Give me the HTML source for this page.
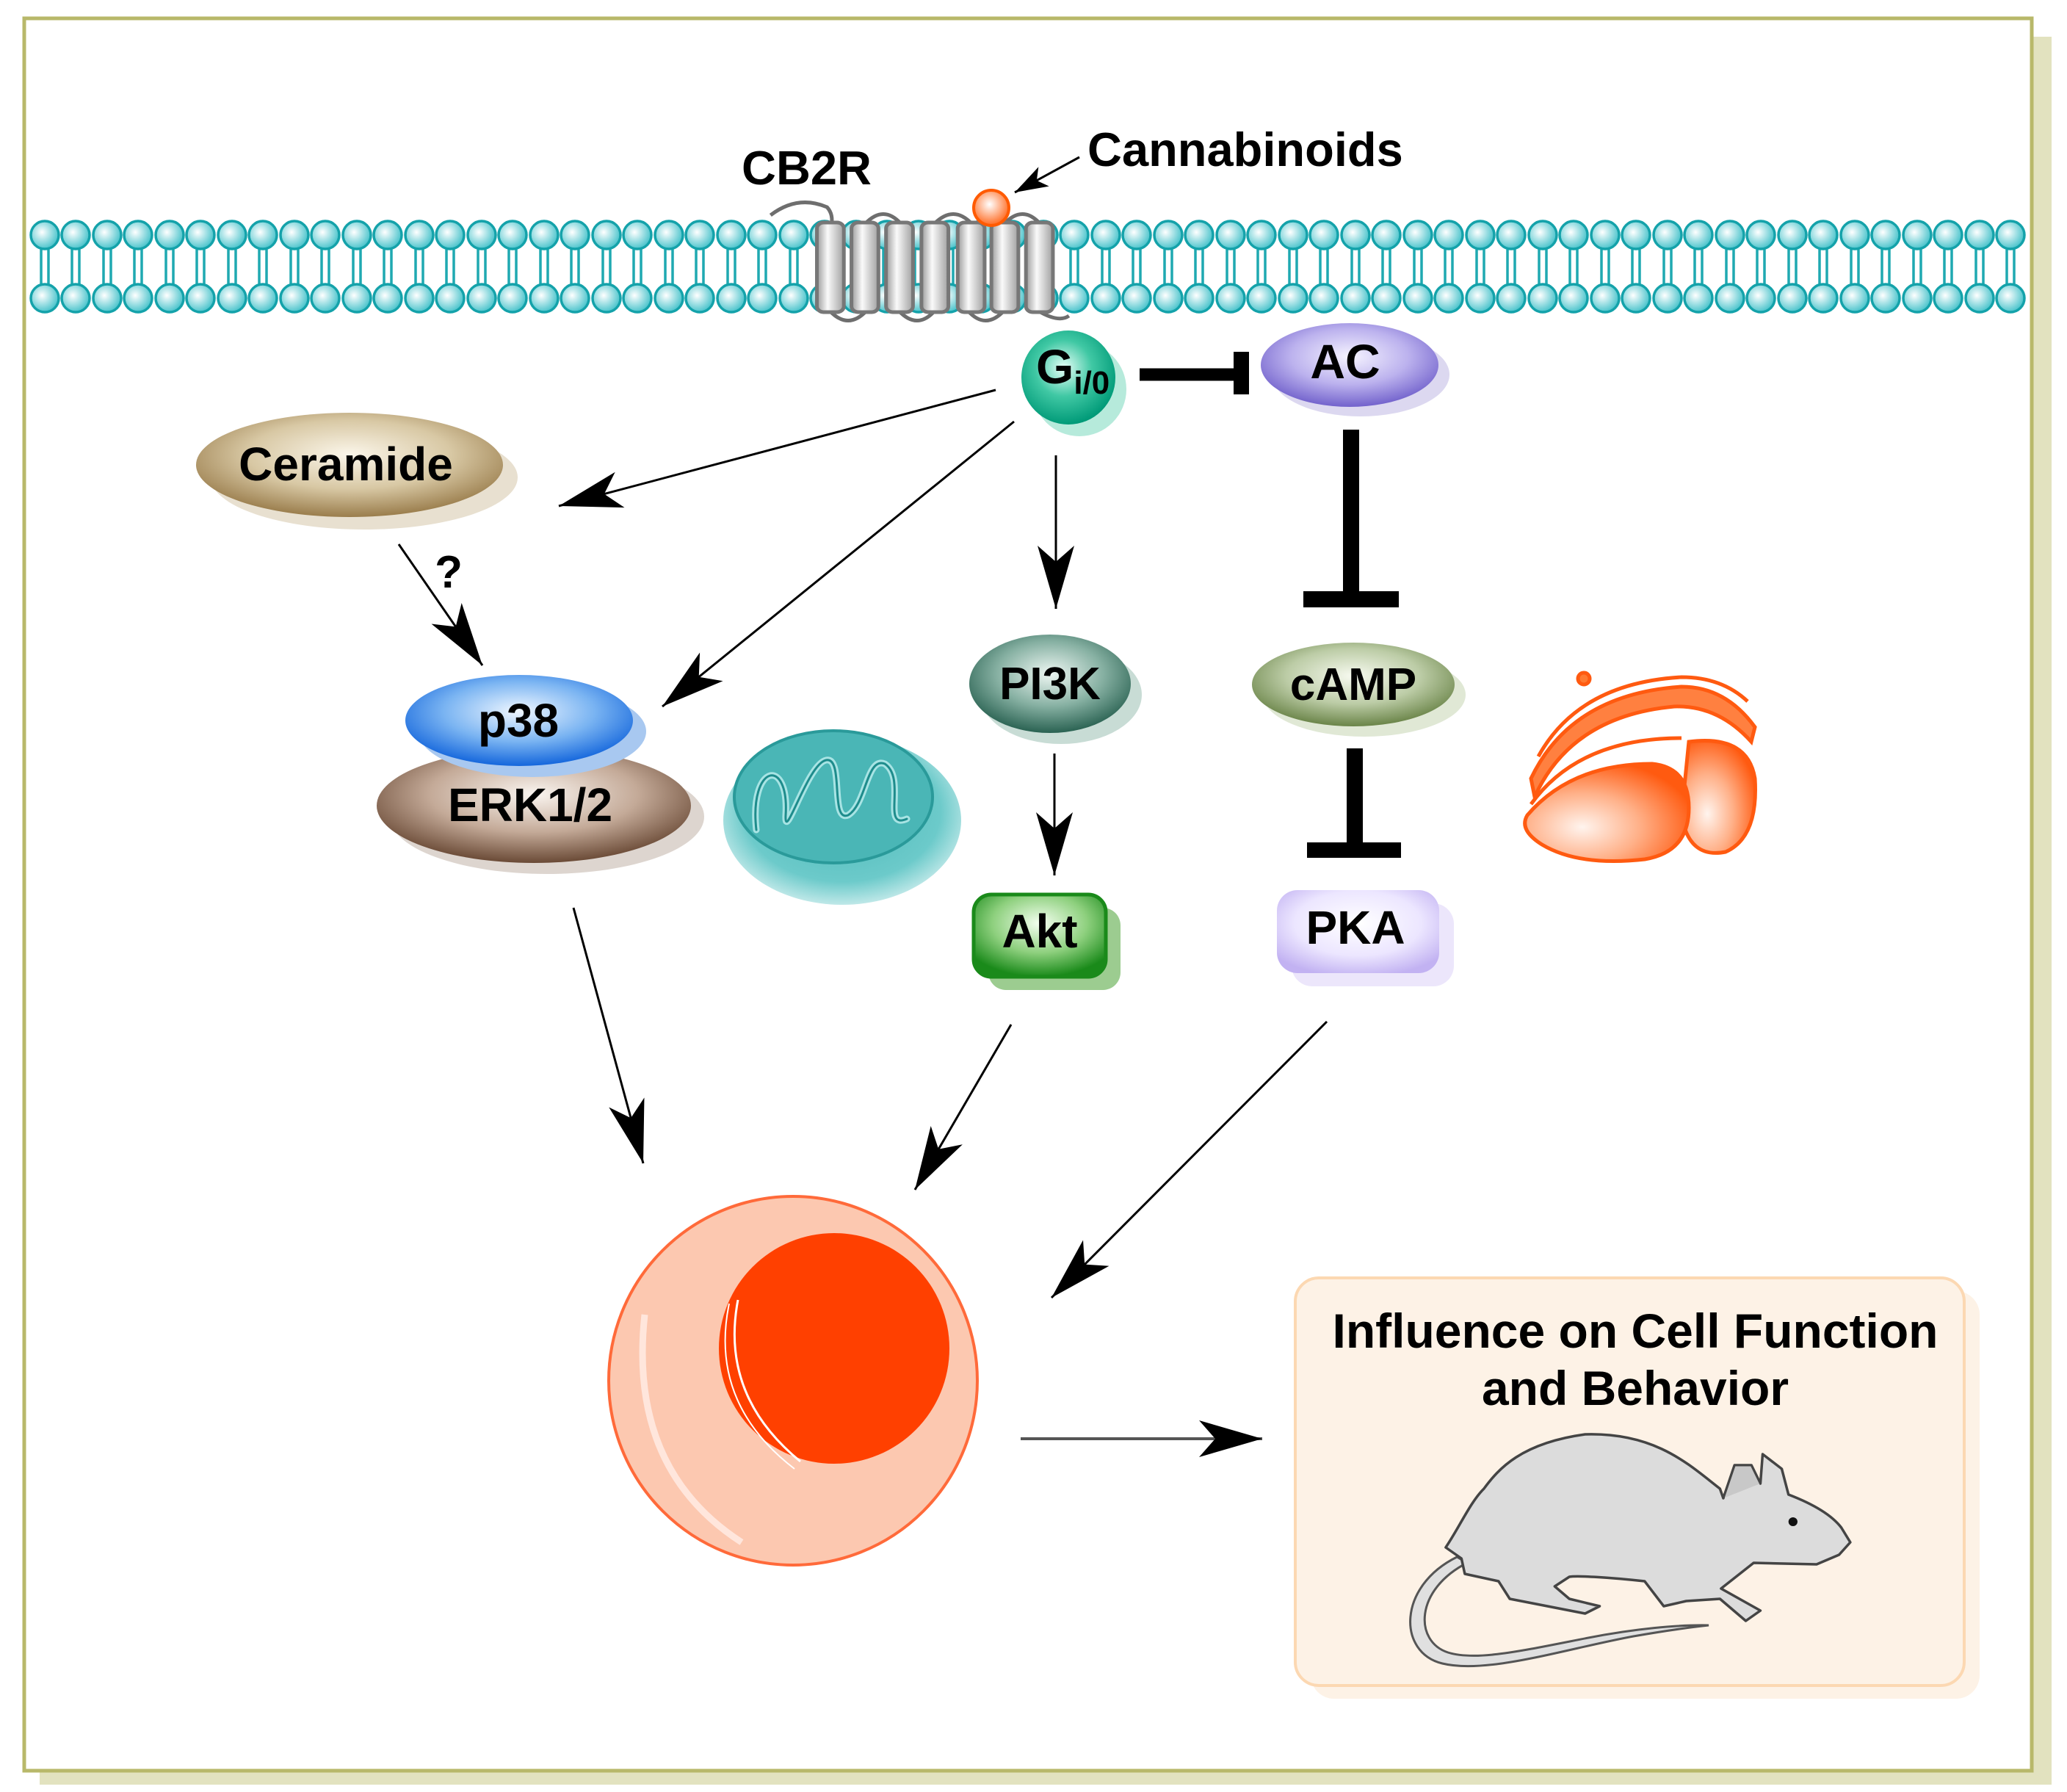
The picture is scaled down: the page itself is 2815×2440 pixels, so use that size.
<!DOCTYPE html>
<html><head><meta charset="utf-8"><style>html,body{margin:0;padding:0;background:#fff}svg{display:block}text{font-family:"Liberation Sans",Arial,sans-serif;font-weight:bold}</style></head>
<body>
<svg width="2815" height="2440" viewBox="0 0 2815 2440" xmlns="http://www.w3.org/2000/svg">
<defs>
<radialGradient id="head" cx="0.4" cy="0.4" r="0.6"><stop offset="0" stop-color="#fff"/><stop offset="1" stop-color="#4cc4cc"/></radialGradient>
<linearGradient id="cyl" x1="0" x2="1" y1="0" y2="0"><stop offset="0" stop-color="#9a9a9a"/><stop offset="0.4" stop-color="#fafafa"/><stop offset="1" stop-color="#a0a0a0"/></linearGradient>
<radialGradient id="gCer" cx="0.5" cy="0.4" r="0.6"><stop offset="0" stop-color="#fbf6ea"/><stop offset="0.55" stop-color="#d8c8a4"/><stop offset="1" stop-color="#9a7d4c"/></radialGradient>
<radialGradient id="gP38" cx="0.5" cy="0.4" r="0.6"><stop offset="0" stop-color="#f0f7ff"/><stop offset="0.55" stop-color="#7ab4f2"/><stop offset="1" stop-color="#1466dc"/></radialGradient>
<radialGradient id="gErk" cx="0.5" cy="0.4" r="0.6"><stop offset="0" stop-color="#faf5f0"/><stop offset="0.55" stop-color="#c4aa98"/><stop offset="1" stop-color="#6a4a36"/></radialGradient>
<radialGradient id="gGi" cx="0.45" cy="0.4" r="0.6"><stop offset="0" stop-color="#e8fff8"/><stop offset="0.5" stop-color="#40c8a4"/><stop offset="1" stop-color="#009a78"/></radialGradient>
<radialGradient id="gAC" cx="0.5" cy="0.4" r="0.6"><stop offset="0" stop-color="#f6f4ff"/><stop offset="0.55" stop-color="#bcb2ee"/><stop offset="1" stop-color="#7262cc"/></radialGradient>
<radialGradient id="gPI" cx="0.5" cy="0.4" r="0.6"><stop offset="0" stop-color="#eef7f3"/><stop offset="0.55" stop-color="#86b0a2"/><stop offset="1" stop-color="#2a6252"/></radialGradient>
<radialGradient id="gCA" cx="0.5" cy="0.4" r="0.6"><stop offset="0" stop-color="#f7faf0"/><stop offset="0.55" stop-color="#bccca6"/><stop offset="1" stop-color="#6a8448"/></radialGradient>
<radialGradient id="gAkt" cx="0.5" cy="0.35" r="0.65"><stop offset="0" stop-color="#f4fff0"/><stop offset="0.55" stop-color="#8ed07e"/><stop offset="1" stop-color="#1a8a1a"/></radialGradient>
<radialGradient id="gPKA" cx="0.5" cy="0.4" r="0.65"><stop offset="0" stop-color="#fff"/><stop offset="0.6" stop-color="#ece6ff"/><stop offset="1" stop-color="#c2b2f2"/></radialGradient>
<radialGradient id="gMito" cx="0.5" cy="0.45" r="0.55"><stop offset="0" stop-color="#4cb8b8"/><stop offset="0.75" stop-color="#6ccaca"/><stop offset="1" stop-color="#bfe8e8"/></radialGradient>
<radialGradient id="gBall" cx="0.45" cy="0.4" r="0.6"><stop offset="0" stop-color="#fff"/><stop offset="1" stop-color="#ff6a20"/></radialGradient>
<radialGradient id="gGolgi" cx="0.35" cy="0.65" r="0.7"><stop offset="0" stop-color="#fff4ee"/><stop offset="0.5" stop-color="#ffb088"/><stop offset="1" stop-color="#ff5a10"/></radialGradient>
<marker id="ah" markerUnits="userSpaceOnUse" markerWidth="100" markerHeight="60" viewBox="-90 -30 95 60" refX="0" refY="0" orient="auto"><path d="M0,0 L-86,-25 L-64,0 L-86,25 Z" fill="#000"/></marker>
<marker id="ahs" markerUnits="userSpaceOnUse" markerWidth="60" markerHeight="40" viewBox="-50 -20 55 40" refX="0" refY="0" orient="auto"><path d="M0,0 L-45,-15 L-34,0 L-45,15 Z" fill="#000"/></marker>
</defs>

<rect x="54" y="50" width="2740" height="2380" fill="#e2e2bf"/>
<rect x="33" y="25" width="2734" height="2386" fill="#fff" stroke="#b8b86a" stroke-width="5"/>

<g stroke="#1fa9b1" stroke-width="3.5">
<path d="M56,338V388M66,338V388M98,338V388M108,338V388M141,338V388M151,338V388M183,338V388M193,338V388M226,338V388M236,338V388M268,338V388M278,338V388M311,338V388M321,338V388M353,338V388M363,338V388M396,338V388M406,338V388M438,338V388M448,338V388M481,338V388M491,338V388M523,338V388M533,338V388M566,338V388M576,338V388M608,338V388M618,338V388M651,338V388M661,338V388M693,338V388M703,338V388M736,338V388M746,338V388M778,338V388M788,338V388M821,338V388M831,338V388M863,338V388M873,338V388M906,338V388M916,338V388M948,338V388M958,338V388M991,338V388M1001,338V388M1033,338V388M1043,338V388M1076,338V388M1086,338V388M1118,338V388M1128,338V388M1161,338V388M1171,338V388M1203,338V388M1213,338V388M1246,338V388M1256,338V388M1288,338V388M1298,338V388M1331,338V388M1341,338V388M1373,338V388M1383,338V388M1416,338V388M1426,338V388M1458,338V388M1468,338V388M1501,338V388M1511,338V388M1543,338V388M1553,338V388M1586,338V388M1596,338V388M1628,338V388M1638,338V388M1671,338V388M1681,338V388M1713,338V388M1723,338V388M1756,338V388M1766,338V388M1798,338V388M1808,338V388M1841,338V388M1851,338V388M1883,338V388M1893,338V388M1926,338V388M1936,338V388M1968,338V388M1978,338V388M2011,338V388M2021,338V388M2053,338V388M2063,338V388M2096,338V388M2106,338V388M2138,338V388M2148,338V388M2181,338V388M2191,338V388M2223,338V388M2233,338V388M2266,338V388M2276,338V388M2308,338V388M2318,338V388M2351,338V388M2361,338V388M2393,338V388M2403,338V388M2436,338V388M2446,338V388M2478,338V388M2488,338V388M2521,338V388M2531,338V388M2563,338V388M2573,338V388M2606,338V388M2616,338V388M2648,338V388M2658,338V388M2691,338V388M2701,338V388M2733,338V388M2743,338V388"/>
</g>
<g fill="url(#head)" stroke="#14a2aa" stroke-width="3.5" id="hd">
<circle cx="61" cy="320" r="19"/><circle cx="103" cy="320" r="19"/><circle cx="146" cy="320" r="19"/><circle cx="188" cy="320" r="19"/><circle cx="231" cy="320" r="19"/><circle cx="273" cy="320" r="19"/><circle cx="316" cy="320" r="19"/><circle cx="358" cy="320" r="19"/><circle cx="401" cy="320" r="19"/><circle cx="443" cy="320" r="19"/><circle cx="486" cy="320" r="19"/><circle cx="528" cy="320" r="19"/><circle cx="571" cy="320" r="19"/><circle cx="613" cy="320" r="19"/><circle cx="656" cy="320" r="19"/><circle cx="698" cy="320" r="19"/><circle cx="741" cy="320" r="19"/><circle cx="783" cy="320" r="19"/><circle cx="826" cy="320" r="19"/><circle cx="868" cy="320" r="19"/><circle cx="911" cy="320" r="19"/><circle cx="953" cy="320" r="19"/><circle cx="996" cy="320" r="19"/><circle cx="1038" cy="320" r="19"/><circle cx="1081" cy="320" r="19"/><circle cx="1123" cy="320" r="19"/><circle cx="1166" cy="320" r="19"/><circle cx="1208" cy="320" r="19"/><circle cx="1251" cy="320" r="19"/><circle cx="1293" cy="320" r="19"/><circle cx="1336" cy="320" r="19"/><circle cx="1378" cy="320" r="19"/><circle cx="1421" cy="320" r="19"/><circle cx="1463" cy="320" r="19"/><circle cx="1506" cy="320" r="19"/><circle cx="1548" cy="320" r="19"/><circle cx="1591" cy="320" r="19"/><circle cx="1633" cy="320" r="19"/><circle cx="1676" cy="320" r="19"/><circle cx="1718" cy="320" r="19"/><circle cx="1761" cy="320" r="19"/><circle cx="1803" cy="320" r="19"/><circle cx="1846" cy="320" r="19"/><circle cx="1888" cy="320" r="19"/><circle cx="1931" cy="320" r="19"/><circle cx="1973" cy="320" r="19"/><circle cx="2016" cy="320" r="19"/><circle cx="2058" cy="320" r="19"/><circle cx="2101" cy="320" r="19"/><circle cx="2143" cy="320" r="19"/><circle cx="2186" cy="320" r="19"/><circle cx="2228" cy="320" r="19"/><circle cx="2271" cy="320" r="19"/><circle cx="2313" cy="320" r="19"/><circle cx="2356" cy="320" r="19"/><circle cx="2398" cy="320" r="19"/><circle cx="2441" cy="320" r="19"/><circle cx="2483" cy="320" r="19"/><circle cx="2526" cy="320" r="19"/><circle cx="2568" cy="320" r="19"/><circle cx="2611" cy="320" r="19"/><circle cx="2653" cy="320" r="19"/><circle cx="2696" cy="320" r="19"/><circle cx="2738" cy="320" r="19"/>
</g>
<use href="#hd" transform="translate(0,86)"/>

<!-- receptor (x stretched) -->
<g transform="translate(1000,0) scale(1.148,1) translate(-1000,0)">
<g fill="none" stroke="#6e6e6e" stroke-width="5" vector-effect="non-scaling-stroke">
<path vector-effect="non-scaling-stroke" d="M1043,293 Q1075,265 1110,282 Q1118,292 1115,308"/>
<path vector-effect="non-scaling-stroke" d="M1155,305 Q1177,278 1198,305"/><path vector-effect="non-scaling-stroke" d="M1237,305 Q1260,278 1282,305"/><path vector-effect="non-scaling-stroke" d="M1320,305 Q1342,278 1363,305"/>
<path vector-effect="non-scaling-stroke" d="M1113,423 Q1135,450 1157,423"/><path vector-effect="non-scaling-stroke" d="M1195,423 Q1217,450 1238,423"/><path vector-effect="non-scaling-stroke" d="M1277,423 Q1298,450 1320,423"/><path vector-effect="non-scaling-stroke" d="M1360,423 Q1385,440 1397,430"/>
</g>
<g fill="url(#cyl)" stroke="#777" stroke-width="5">
<rect vector-effect="non-scaling-stroke" x="1098" y="303" width="32" height="122" rx="8"/><rect vector-effect="non-scaling-stroke" x="1139" y="303" width="32" height="122" rx="8"/><rect vector-effect="non-scaling-stroke" x="1180" y="303" width="32" height="122" rx="8"/><rect vector-effect="non-scaling-stroke" x="1222" y="303" width="32" height="122" rx="8"/><rect vector-effect="non-scaling-stroke" x="1265" y="303" width="32" height="122" rx="8"/><rect vector-effect="non-scaling-stroke" x="1305" y="303" width="32" height="122" rx="8"/><rect vector-effect="non-scaling-stroke" x="1346" y="303" width="32" height="122" rx="8"/>
</g>
</g>
<circle cx="1350" cy="283" r="24" fill="url(#gBall)" stroke="#ff5a00" stroke-width="4"/>

<text x="1010" y="251" font-size="65">CB2R</text>
<text x="1481" y="226" font-size="65">Cannabinoids</text>
<line x1="1470" y1="214" x2="1382" y2="262" stroke="#000" stroke-width="3" marker-end="url(#ahs)"/>

<!-- Gi -->
<circle cx="1470" cy="530" r="64" fill="#b6eadb"/>
<circle cx="1455" cy="514" r="64" fill="url(#gGi)"/>
<text x="1411" y="522" font-size="66">G<tspan font-size="44" dy="14">i/0</tspan></text>
<line x1="1552" y1="510" x2="1690" y2="510" stroke="#000" stroke-width="17"/>
<rect x="1680" y="479" width="21" height="58" fill="#000"/>

<!-- AC -->
<ellipse cx="1853" cy="510" rx="121" ry="57" fill="#dcd8f0"/>
<ellipse cx="1838" cy="497" rx="121" ry="57" fill="url(#gAC)"/>
<text x="1832" y="515" font-size="66" font-family="Liberation Serif,serif" text-anchor="middle">AC</text>
<rect x="1829" y="585" width="22" height="222" fill="#000"/>
<rect x="1775" y="805" width="130" height="22" fill="#000"/>

<!-- cAMP -->
<ellipse cx="1858" cy="946" rx="138" ry="57" fill="#e0e8d5"/>
<ellipse cx="1843" cy="932" rx="138" ry="57" fill="url(#gCA)"/>
<text x="1843" y="953" font-size="62" text-anchor="middle">cAMP</text>
<rect x="1834" y="1019" width="22" height="131" fill="#000"/>
<rect x="1780" y="1147" width="128" height="21" fill="#000"/>

<!-- PKA -->
<rect x="1759" y="1230" width="221" height="113" rx="28" fill="#ece6fb"/>
<rect x="1739" y="1212" width="221" height="113" rx="28" fill="url(#gPKA)"/>
<text x="1846" y="1285" font-size="64" text-anchor="middle">PKA</text>

<!-- PI3K -->
<ellipse cx="1445" cy="946" rx="110" ry="67" fill="#c8dcd5"/>
<ellipse cx="1430" cy="931" rx="110" ry="67" fill="url(#gPI)"/>
<text x="1430" y="952" font-size="62" text-anchor="middle">PI3K</text>
<line x1="1438" y1="620" x2="1438" y2="829" stroke="#000" stroke-width="3" marker-end="url(#ah)"/>
<line x1="1436" y1="1026" x2="1436" y2="1192" stroke="#000" stroke-width="3" marker-end="url(#ah)"/>

<!-- Akt -->
<rect x="1346" y="1236" width="180" height="112" rx="24" fill="#9ccc90"/>
<rect x="1326" y="1218" width="180" height="112" rx="24" fill="url(#gAkt)" stroke="#1a8a1a" stroke-width="5"/>
<text x="1416" y="1290" font-size="64" text-anchor="middle">Akt</text>

<!-- Ceramide -->
<ellipse cx="496" cy="650" rx="209" ry="71" fill="#e8e0d0"/>
<ellipse cx="476" cy="633" rx="209" ry="71" fill="url(#gCer)"/>
<text x="471" y="654" font-size="64" text-anchor="middle">Ceramide</text>

<line x1="1356" y1="531" x2="761" y2="689" stroke="#000" stroke-width="3" marker-end="url(#ah)"/>
<line x1="1381" y1="574" x2="902" y2="962" stroke="#000" stroke-width="3" marker-end="url(#ah)"/>
<line x1="543" y1="741" x2="657" y2="906" stroke="#000" stroke-width="3" marker-end="url(#ah)"/>
<text x="611" y="800" font-size="62" text-anchor="middle">?</text>

<!-- ERK / p38 -->
<ellipse cx="745" cy="1112" rx="214" ry="78" fill="#ddd5cf"/>
<ellipse cx="727" cy="1097" rx="214" ry="78" fill="url(#gErk)"/>
<ellipse cx="725" cy="996" rx="155" ry="62" fill="#a8c8f0"/>
<ellipse cx="707" cy="981" rx="155" ry="62" fill="url(#gP38)"/>
<text x="706" y="1003" font-size="64" text-anchor="middle">p38</text>
<text x="722" y="1118" font-size="64" text-anchor="middle">ERK1/2</text>

<!-- Mitochondrion -->
<ellipse cx="1147" cy="1117" rx="162" ry="115" fill="url(#gMito)"/>
<ellipse cx="1135" cy="1085" rx="135" ry="90" fill="#4ab6b6" stroke="#2a9a9a" stroke-width="4"/>
<g fill="none" stroke-linecap="round">
<path d="M1030,1130 C1020,1040 1075,1030 1070,1110 C1068,1150 1100,1040 1125,1035 C1150,1030 1130,1120 1155,1110 C1180,1095 1180,1030 1205,1040 C1235,1060 1200,1130 1235,1115" stroke="#a8e4e4" stroke-width="9"/>
<path d="M1030,1130 C1020,1040 1075,1030 1070,1110 C1068,1150 1100,1040 1125,1035 C1150,1030 1130,1120 1155,1110 C1180,1095 1180,1030 1205,1040 C1235,1060 1200,1130 1235,1115" stroke="#1e8c8c" stroke-width="3"/>
</g>

<!-- Golgi -->
<g stroke="#ff5a10" stroke-width="5" fill="#fff">
<circle cx="2157" cy="924" r="8" fill="#ff7a30"/>
<path d="M2085,1060 Q2140,945 2290,935 Q2350,935 2390,990 L2385,1010 Q2340,960 2280,962 Q2140,975 2090,1085 Z" fill="#ff8040"/>
<path d="M2095,1030 Q2150,930 2290,922 Q2345,922 2380,955" fill="none"/>
<path d="M2300,1010 Q2380,1000 2390,1060 Q2395,1140 2350,1160 Q2300,1170 2290,1110 Z" fill="url(#gGolgi)"/>
<path d="M2080,1110 Q2140,1040 2250,1040 Q2300,1045 2300,1100 Q2300,1160 2240,1170 Q2150,1180 2100,1150 Q2068,1130 2080,1110 Z" fill="url(#gGolgi)"/>
<path d="M2085,1095 Q2150,1005 2290,1005" fill="none"/>
</g>

<line x1="781" y1="1236" x2="876" y2="1584" stroke="#000" stroke-width="3" marker-end="url(#ah)"/>
<line x1="1377" y1="1395" x2="1246" y2="1620" stroke="#000" stroke-width="3" marker-end="url(#ah)"/>
<line x1="1807" y1="1391" x2="1432" y2="1767" stroke="#000" stroke-width="3" marker-end="url(#ah)"/>
<line x1="1390" y1="1959" x2="1719" y2="1959" stroke="#555" stroke-width="4" marker-end="url(#ah)"/>

<!-- cell -->
<circle cx="1080" cy="1880" r="251" fill="#fcc8b0" stroke="#ff6a3a" stroke-width="4"/>
<path d="M878,1790 Q855,2000 1010,2100" fill="none" stroke="#ffe6dc" stroke-width="9"/>
<circle cx="1136" cy="1836" r="157" fill="#ff4000"/>
<path d="M1005,1770 Q980,1900 1090,1990" fill="none" stroke="#fff" stroke-width="3"/>
<path d="M993,1775 Q965,1910 1082,2000" fill="none" stroke="#fff" stroke-width="2"/>

<!-- result box -->
<rect x="1785" y="1758" width="911" height="555" rx="32" fill="#fdf2e6"/>
<rect x="1764" y="1740" width="911" height="555" rx="32" fill="#fdf2e6" stroke="#fcd8b2" stroke-width="4"/>
<text x="2227" y="1835" font-size="66" text-anchor="middle">Influence on Cell Function</text>
<text x="2227" y="1913" font-size="66" text-anchor="middle">and Behavior</text>

<!-- mouse (x stretched) -->
<g transform="translate(1750,0) scale(1.5306,1) translate(-1750,0)">
<path vector-effect="non-scaling-stroke" d="M1903,2120 C1850,2160 1850,2250 1890,2265 C1930,2280 2000,2245 2060,2228 C2090,2220 2115,2215 2127,2213 C2100,2212 2060,2218 2020,2230 C1960,2248 1920,2262 1895,2250 C1865,2235 1865,2165 1912,2128 Z" fill="#e0e0e0" stroke="#555" stroke-width="3"/>
<path vector-effect="non-scaling-stroke" d="M2017,1953 C2080,1950 2110,1995 2137,2027 L2140,2040 L2150,1995 L2165,1995 L2173,2020 L2175,1980 L2192,2000 L2198,2035 C2215,2045 2235,2060 2245,2080 L2253,2100 L2243,2117 L2223,2130 L2167,2128 L2138,2163 L2173,2193 L2160,2207 L2137,2177 L2107,2180 L2087,2187 L2070,2153 C2040,2148 2010,2145 2003,2147 L1990,2160 L2003,2177 L2030,2187 L2017,2197 L1950,2177 L1940,2153 L1910,2143 L1907,2122 L1893,2107 C1905,2080 1915,2045 1927,2027 C1940,2000 1960,1965 2017,1953 Z" fill="#dcdcdc" stroke="#444" stroke-width="3.5" stroke-linejoin="round"/>
<path vector-effect="non-scaling-stroke" d="M2140,2040 L2150,1995 L2165,1995 L2173,2020" fill="#c8c8c8" stroke="#444" stroke-width="3"/>
<ellipse cx="2202" cy="2072" rx="4" ry="6" fill="#111"/>
</g>
</svg>
</body></html>
